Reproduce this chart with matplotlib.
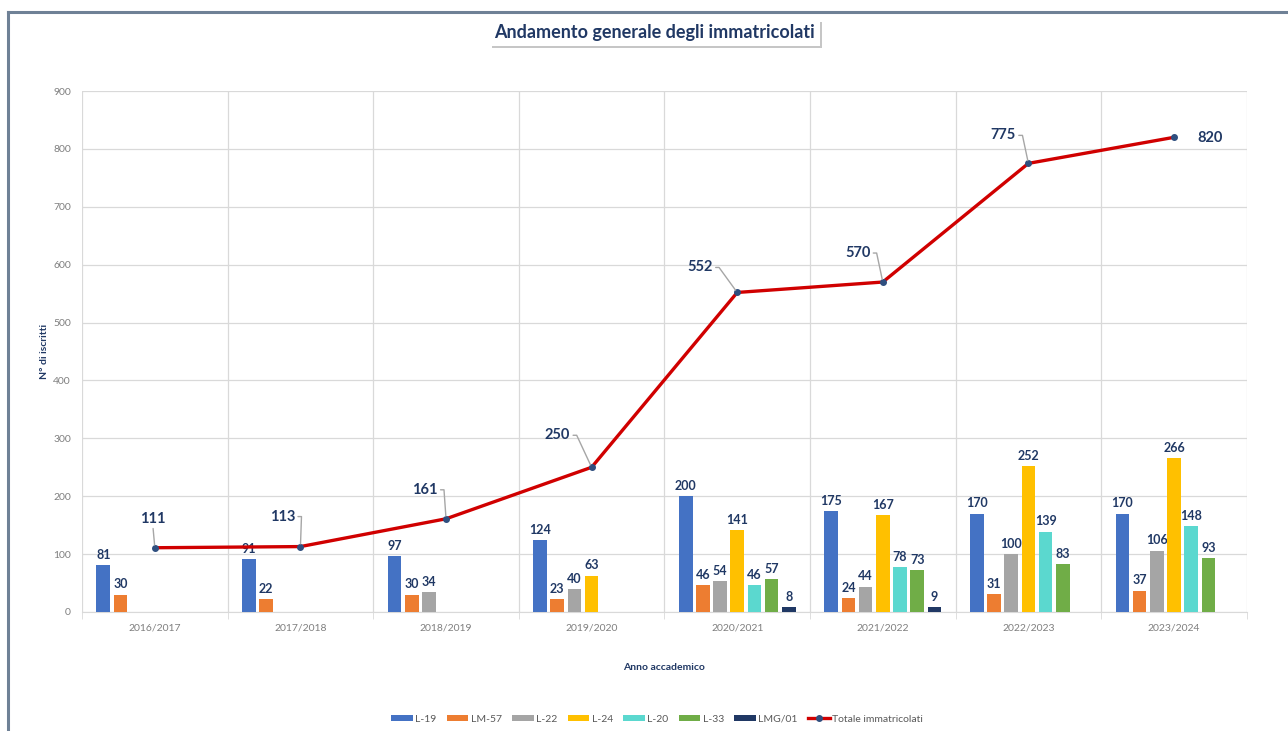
"""Andamento generale degli immatricolati: barre per corso + totale."""

import numpy as np
import matplotlib.pyplot as plt
import matplotlib.patheffects as pe
from matplotlib.lines import Line2D
from matplotlib.patches import Patch

plt.rcParams["font.family"] = ["Lato", "DejaVu Sans"]

# -----------------------------------------------------------------------
# Dati
# -----------------------------------------------------------------------
anni = ["2016/2017", "2017/2018", "2018/2019", "2019/2020",
        "2020/2021", "2021/2022", "2022/2023", "2023/2024"]

corsi = ["L-19", "LM-57", "L-22", "L-24", "L-20", "L-33", "LMG/01"]

l19 = [81, 91, 97, 124, 200, 175, 170, 170]
lm57 = [30, 22, 30, 23, 46, 24, 31, 37]
l22 = [None, None, 34, 40, 54, 44, 100, 106]
l24 = [None, None, None, 63, 141, 167, 252, 266]
l20 = [None, None, None, None, 46, 78, 139, 148]
l33 = [None, None, None, None, 57, 73, 83, 93]
lmg01 = [None, None, None, None, 8, 9, None, None]

totale = [111, 113, 161, 250, 552, 570, 775, 820]

# offset (pixel) delle etichette del totale rispetto al punto
tot_offsets = [(-2, 29), (-18, 30), (-21, 29), (-34, 32),
               (-37, 25), (-25, 29), (-25, 28), (36, -1)]

COLORS = ["#4472C4", "#ED7D31", "#A5A5A5", "#FFC000",
          "#5BD8CF", "#70AD47", "#203864"]
NAVY = "#203864"
RED = "#D00000"
GRID = "#D9D9D9"
TICK = "#7F7F7F"

series = [l19, lm57, l22, l24, l20, l33, lmg01]

# -----------------------------------------------------------------------
# Figura
# -----------------------------------------------------------------------
fig = plt.figure(figsize=(12.88, 7.31), dpi=100)
ax = fig.add_axes([0.0637, 0.1628, 0.9043, 0.7127])

x = np.arange(len(anni))
slot = 0.118
width = 0.094

for k, (vals, col) in enumerate(zip(series, COLORS)):
    xs = [xi + (k - 3) * slot for xi, v in zip(x, vals) if v is not None]
    ys = [v for v in vals if v is not None]
    bars = ax.bar(xs, ys, width=width, color=col, zorder=3)
    ax.bar_label(bars, padding=3, fontsize=9, fontweight="bold", color=NAVY)

ax.plot(x, totale, color=RED, lw=2.4, marker="o", ms=4,
        mfc="#2F4F7F", mec="#2F4F7F", zorder=5)

for xi, yi, (dx, dy) in zip(x, totale, tot_offsets):
    if dx > 0:
        ax.annotate(str(yi), (xi, yi), xytext=(dx, dy),
                    textcoords="offset pixels", ha="center", va="center",
                    fontsize=10.5, fontweight="bold", color=NAVY, zorder=6)
        continue
    if abs(dx) < 5:
        arrow = dict(arrowstyle="-", color="#A6A6A6", lw=1,
                     relpos=(0.5, 0), shrinkA=0, shrinkB=2)
    else:
        ang = np.degrees(np.arctan2(dy, dx + 19))
        arrow = dict(arrowstyle="-", color="#A6A6A6", lw=1,
                     relpos=(1, 0.5), shrinkA=0, shrinkB=2,
                     connectionstyle=f"angle,angleA=0,angleB={ang:.0f},rad=0")
    ax.annotate(str(yi), (xi, yi), xytext=(dx, dy),
                textcoords="offset pixels", ha="center", va="center",
                fontsize=10.5, fontweight="bold", color=NAVY,
                arrowprops=arrow, zorder=6)

# assi
ax.set_xlim(-0.5, len(anni) - 0.5)
ax.set_ylim(0, 900)
ax.set_yticks(np.arange(0, 901, 100))
ax.set_xticks(x)
ax.set_xticklabels(anni)
ax.set_xticks(np.arange(-0.5, len(anni), 1), minor=True)
ax.tick_params(axis="both", which="major", labelsize=7.5, colors=TICK,
               length=0, pad=8)
ax.tick_params(axis="x", which="minor", length=5, color=GRID)
ax.grid(axis="y", color=GRID, lw=0.9, zorder=0)
ax.grid(axis="x", which="minor", color=GRID, lw=0.9, zorder=0)
for s in ax.spines.values():
    s.set_visible(False)
ax.spines["bottom"].set_visible(True)
ax.spines["bottom"].set_color(GRID)

ax.set_ylabel("N° di iscritti", fontsize=7.5, fontweight="bold",
              color=NAVY, labelpad=3)
ax.set_xlabel("Anno accademico", fontsize=7.5, fontweight="bold",
              color=NAVY, labelpad=22)

# titolo con ombra
t = fig.text(0.5085, 0.955, "Andamento generale degli immatricolati",
             ha="center", va="center", fontsize=13, fontweight="bold",
             color=NAVY,
             bbox=dict(boxstyle="square,pad=0.25", fc="white", ec="none"))
t.get_bbox_patch().set_path_effects(
    [pe.withSimplePatchShadow(offset=(1.5, -1.5), shadow_rgbFace="#A0A0A0",
                              alpha=0.6)])

# legenda
handles = [Patch(facecolor=c, label=n) for c, n in zip(COLORS, corsi)]
handles.append(Line2D([], [], color=RED, lw=2.4, marker="o", ms=4,
                      mfc="#2F4F7F", mec="#2F4F7F",
                      label="Totale immatricolati"))
leg = fig.legend(handles=handles, loc="center", ncol=8,
                 bbox_to_anchor=(0.51, 0.016), frameon=False, fontsize=7.5,
                 handlelength=2.1, handleheight=0.5, handletextpad=0.2,
                 columnspacing=1.0)
for txt in leg.get_texts():
    txt.set_color("#595959")

# cornice
frame = "#6F8196"
fig.add_artist(Line2D([0.0062, 1.0], [0.9836, 0.9836], color=frame, lw=2.2,
                      transform=fig.transFigure))
fig.add_artist(Line2D([0.0062, 0.0062], [0.0, 0.9836], color=frame, lw=2.2,
                      transform=fig.transFigure))

fig.savefig("out.png", dpi=100)
